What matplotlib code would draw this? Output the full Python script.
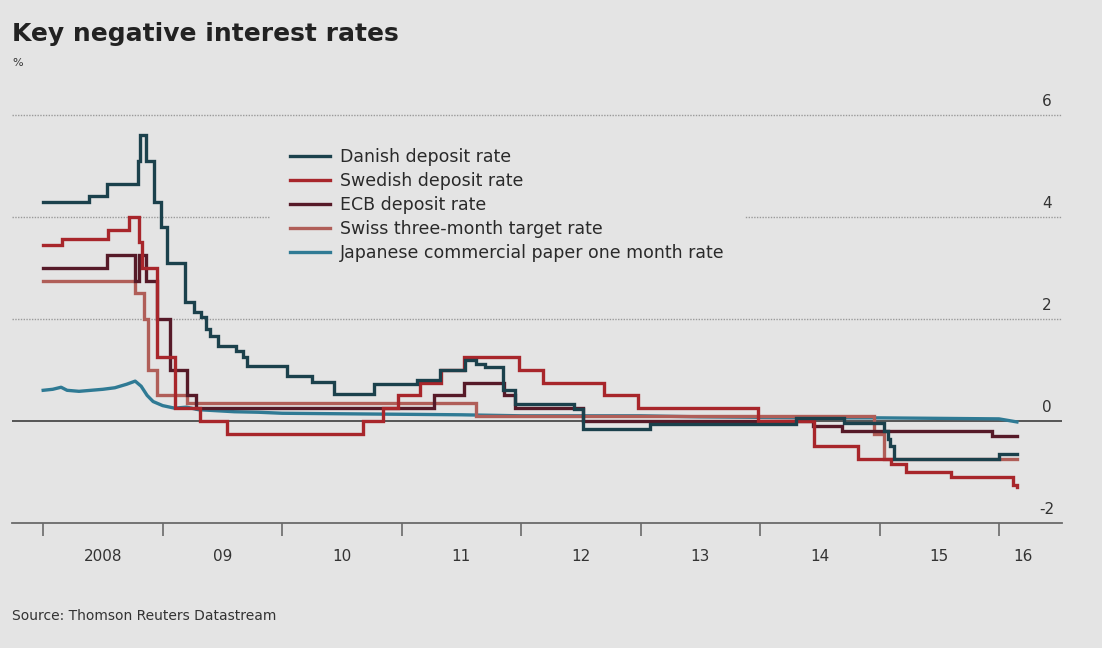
import matplotlib
matplotlib.use("Agg")
import matplotlib.pyplot as plt
import matplotlib.transforms as mtransforms

plt.rcParams['font.family'] = ['DejaVu Sans']

# step series: (decimal year, rate in %)
danish_x = [2008.0, 2008.38, 2008.53, 2008.79, 2008.81, 2008.86, 2008.93, 2008.99, 2009.04,
            2009.19, 2009.26, 2009.32, 2009.36, 2009.40, 2009.46, 2009.61, 2009.67, 2009.71,
            2010.04, 2010.25, 2010.43, 2010.77, 2011.13, 2011.32, 2011.53, 2011.62, 2011.70,
            2011.85, 2011.95, 2012.44, 2012.52, 2013.08, 2014.30, 2014.70, 2015.04, 2015.07,
            2015.09, 2015.12, 2016.00, 2016.15]
danish_y = [4.3, 4.4, 4.65, 5.1, 5.6, 5.1, 4.3, 3.8, 3.1,
            2.33, 2.14, 2.04, 1.8, 1.67, 1.47, 1.37, 1.25, 1.08,
            0.88, 0.76, 0.53, 0.73, 0.8, 1.0, 1.2, 1.12, 1.05,
            0.6, 0.33, 0.23, -0.16, -0.06, 0.05, -0.05, -0.2, -0.35,
            -0.5, -0.75, -0.65, -0.65]

swedish_x = [2008.0, 2008.16, 2008.54, 2008.72, 2008.80, 2008.83, 2008.95, 2009.10, 2009.31,
             2009.54, 2010.68, 2010.84, 2010.97, 2011.15, 2011.33, 2011.52, 2011.98, 2012.18,
             2012.69, 2012.98, 2013.98, 2014.45, 2014.82, 2015.10, 2015.22, 2015.60, 2016.12,
             2016.15]
swedish_y = [3.45, 3.57, 3.75, 4.0, 3.5, 3.0, 1.25, 0.25, 0.0,
             -0.25, 0.0, 0.25, 0.5, 0.75, 1.0, 1.25, 1.0, 0.75,
             0.5, 0.25, 0.0, -0.5, -0.75, -0.85, -1.0, -1.1, -1.25,
             -1.3]

ecb_x = [2008.0, 2008.53, 2008.77, 2008.80, 2008.86, 2008.95, 2009.06, 2009.20, 2009.28,
         2011.27, 2011.52, 2011.86, 2011.95, 2012.52, 2014.44, 2014.69, 2015.94, 2016.15]
ecb_y = [3.0, 3.25, 2.75, 3.25, 2.75, 2.0, 1.0, 0.5, 0.25,
         0.5, 0.75, 0.5, 0.25, 0.0, -0.1, -0.2, -0.3, -0.3]

swiss_x = [2008.0, 2008.77, 2008.84, 2008.88, 2008.95, 2009.20, 2011.62, 2014.95, 2015.04, 2016.15]
swiss_y = [2.75, 2.5, 2.0, 1.0, 0.5, 0.35, 0.1, -0.25, -0.75, -0.75]

japan_x = [2008.0, 2008.08, 2008.15, 2008.2, 2008.3, 2008.4, 2008.5, 2008.6, 2008.7, 2008.77,
           2008.82, 2008.87, 2008.92, 2009.0, 2009.1, 2009.2, 2009.3, 2009.45, 2009.6, 2009.8,
           2010.0, 2010.5, 2011.0, 2011.5, 2012.0, 2012.5, 2013.0, 2013.5, 2014.0, 2014.5,
           2015.0, 2015.5, 2016.0, 2016.1, 2016.15]
japan_y = [0.6, 0.62, 0.66, 0.6, 0.58, 0.6, 0.62, 0.65, 0.72, 0.78,
           0.68, 0.5, 0.38, 0.3, 0.25, 0.27, 0.22, 0.2, 0.18, 0.17,
           0.15, 0.14, 0.13, 0.12, 0.1, 0.1, 0.1, 0.08, 0.07, 0.06,
           0.06, 0.05, 0.04, 0.0, -0.02]

labels = ["Danish deposit rate", "Swedish deposit rate", "ECB deposit rate",
          "Swiss three-month target rate", "Japanese commercial paper one month rate"]
colors = ["#1b414c", "#a8262b", "#561a28", "#b05e58", "#2f7a94"]

year_ticks = [2008, 2009, 2010, 2011, 2012, 2013, 2014, 2015, 2016]
year_label_pos = [2008.5, 2009.5, 2010.5, 2011.5, 2012.5, 2013.5, 2014.5, 2015.5, 2016.2]
year_labels = ["2008", "09", "10", "11", "12", "13", "14", "15", "16"]
y_ticks = [6, 4, 2, 0, -2]

bg = "#e4e4e4"
fig = plt.figure(figsize=(11.02, 6.48), dpi=100, facecolor=bg)
ax = fig.add_axes([0.011, 0.193, 0.953, 0.677])
ax.set_facecolor(bg)

series = [(danish_x, danish_y), (swedish_x, swedish_y), (ecb_x, ecb_y), (swiss_x, swiss_y)]
handles = []
for i, (sx, sy) in enumerate(series):
    h, = ax.step(sx, sy, where='post', color=colors[i], lw=2.4, zorder=5 - i,
                 solid_joinstyle='miter', label=labels[i])
    handles.append(h)
h, = ax.plot(japan_x, japan_y, color=colors[4], lw=2.4, zorder=1.5, label=labels[4])
handles.append(h)

for v in [6, 4, 2]:
    ax.axhline(v, color="#9a9a9a", lw=1.0, ls=(0, (1, 1)), zorder=0)
ax.axhline(0, color="#4a4a4a", lw=1.3, zorder=1)

ax.set_xlim(2007.74, 2016.53)
ax.set_ylim(-2, 6.6)

for s in ['top', 'right', 'left']:
    ax.spines[s].set_visible(False)
ax.spines['bottom'].set_color("#6a6a6a")
ax.spines['bottom'].set_linewidth(1.3)
ax.set_yticks([])
ax.set_xticks(year_ticks)
ax.set_xticklabels([])
ax.tick_params(axis='x', which='major', length=9, width=1.2, color="#6a6a6a")
ax.set_xticks(year_label_pos, minor=True)
ax.set_xticklabels(year_labels, minor=True)
ax.tick_params(axis='x', which='minor', length=0, pad=19, labelsize=11, labelcolor="#333333")

trans = mtransforms.blended_transform_factory(ax.transAxes, ax.transData)
for v in y_ticks:
    ax.text(0.985, v + 0.12, "%d" % v if v >= 0 else "-%d" % abs(v), transform=trans,
            ha='center', va='bottom', fontsize=11, color="#333333")

leg = ax.legend(handles=handles, loc='upper left', bbox_to_anchor=(0.2457, 0.9),
                frameon=True, facecolor=bg, edgecolor='none', framealpha=1,
                fontsize=12.5, handlelength=2.3, handletextpad=0.57, labelspacing=0.34,
                borderpad=1.15, borderaxespad=0, labelcolor="#2a2a2a")
leg.set_zorder(0.5)

fig.text(0.011, 0.947, "Key negative interest rates", fontsize=18, fontweight='bold',
         color="#222222", ha='left', va='center')
fig.text(0.011, 0.903, "%", fontsize=8, color="#333333", ha='left', va='center')
fig.text(0.011, 0.05, "Source: Thomson Reuters Datastream", fontsize=10, color="#333333",
         ha='left', va='center')

fig.savefig("out.png", dpi=100, facecolor=bg)
